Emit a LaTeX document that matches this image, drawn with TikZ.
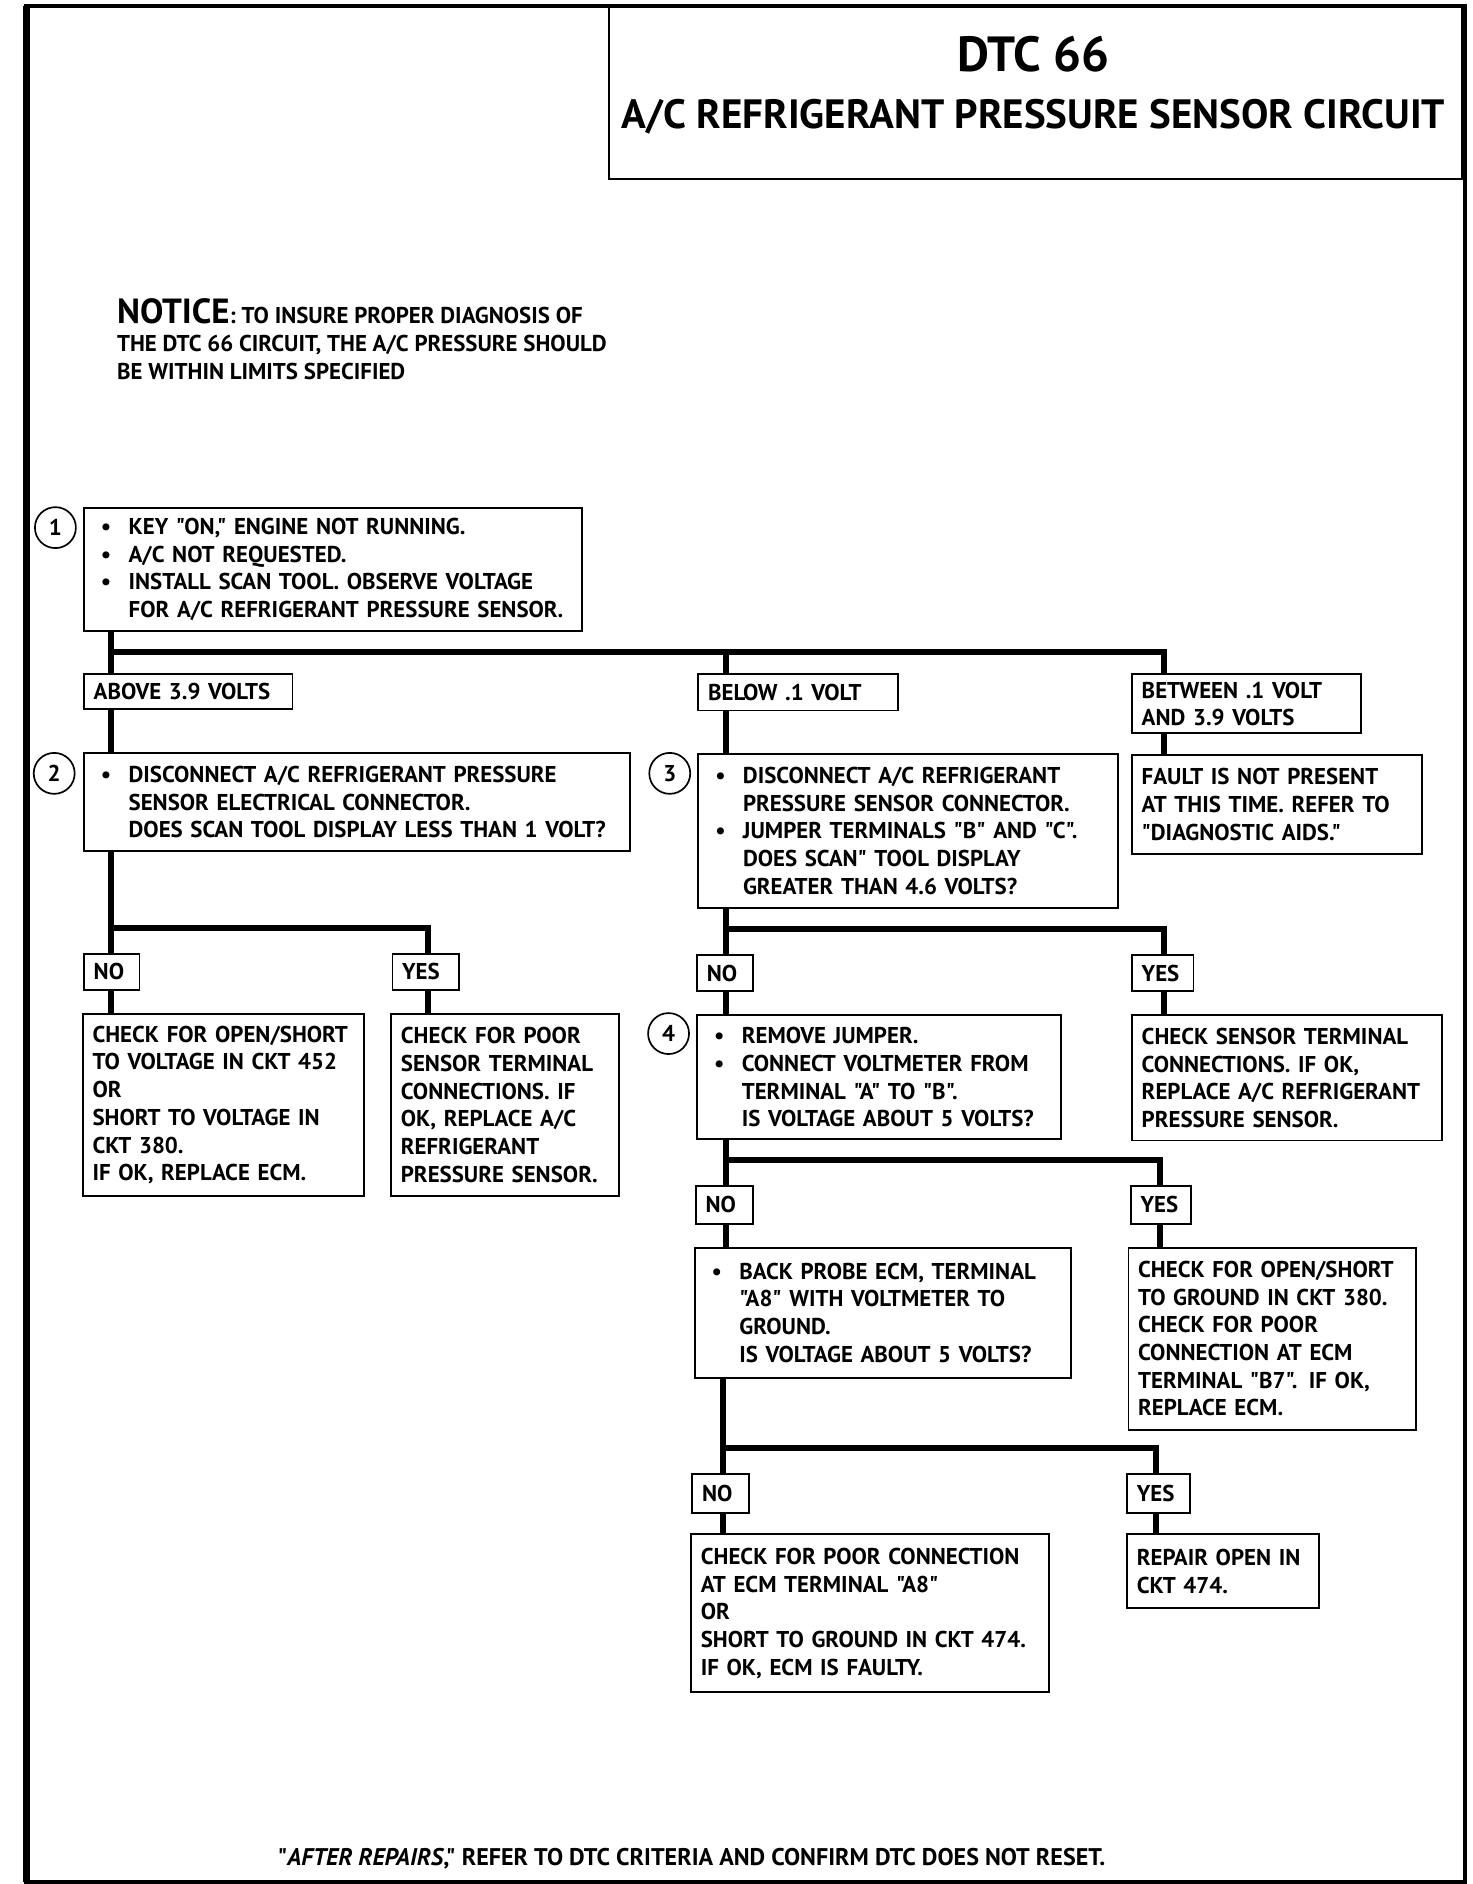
\documentclass[tikz,border=0pt]{standalone}
\usepackage{fontspec}
\setmainfont{PT Sans}[Ligatures=TeXOff]
\newcommand\bodyfont{\fontsize{19}{23}\selectfont\bfseries}
\newcommand\bul{\makebox[29pt][l]{\hspace{6pt}\textbullet}}
\newcommand\ind{\hspace*{29pt}}
\begin{document}
\begin{tikzpicture}[x=1pt,y=-1pt]
	\tikzstyle{mybox}=[draw,line width=1.6pt,anchor=north west,align=left,inner xsep=8pt,inner ysep=0pt,font=\bodyfont]
	\tikzstyle{mywire}=[line width=5pt,line join=miter]
	\tikzstyle{mystep}=[draw,circle,line width=1.4pt,minimum size=34pt,inner sep=0pt,font=\bodyfont]

	\useasboundingbox (0,0) rectangle (1222,1564);
	\draw[line width=3.5pt] (22,5) rectangle (1216,1562);
	\draw[line width=5pt] (22,5) -- (22,1562);

	% title
	\node[draw,line width=1.6pt,anchor=north west,minimum width=708pt,minimum height=143pt,inner sep=0pt] (ttlbox) at (505,5) {};
	\node[font=\fontsize{41}{41}\selectfont\bfseries] (dtc) at (858,45) {DTC 66};
	\node[font=\fontsize{34}{34}\selectfont\bfseries] (ttl) at (858,97) {A/C REFRIGERANT PRESSURE SENSOR CIRCUIT};

	\node[anchor=north west,align=left,inner sep=0pt,font=\fontsize{19}{23}\selectfont\bfseries] (notice) at (97,248)
		{{\fontsize{29}{23}\selectfont NOTICE}: TO INSURE PROPER DIAGNOSIS OF\\
		THE DTC 66 CIRCUIT, THE A/C PRESSURE SHOULD\\
		BE WITHIN LIMITS SPECIFIED};

	% step 1
	\node[mystep] (c1) at (46,438) {1};
	\node[mybox,text width=397pt,minimum height=102pt] (b1) at (69,421)
		{\bul KEY "ON," ENGINE NOT RUNNING.\\
		\bul A/C NOT REQUESTED.\\
		\bul INSTALL SCAN TOOL. OBSERVE VOLTAGE\\
		\ind FOR A/C REFRIGERANT PRESSURE SENSOR.};

	\node[mybox,text width=157pt,minimum height=29pt] (abv) at (69,559) {ABOVE 3.9 VOLTS};
	\node[mybox,text width=150pt,minimum height=30pt] (blw) at (579,559) {BELOW .1 VOLT};
	\node[mybox,text width=174pt,minimum height=49pt] (btw) at (939,559) {BETWEEN .1 VOLT\\AND 3.9 VOLTS};

	\coordinate (j1a) at (92,541);
	\coordinate (j1b) at (603,541);
	\coordinate (j1c) at (966,541);
	\draw[mywire] (b1.south -| j1a) -- (abv.north -| j1a);
	\draw[mywire] (j1a) -- (j1c) -- (btw.north -| j1c);
	\draw[mywire] (j1b) -- (blw.north -| j1b);

	% step 2 / step 3
	\node[mystep] (c2) at (45,642) {2};
	\node[mybox,text width=437pt,minimum height=82pt] (b2) at (69,624)
		{\bul DISCONNECT A/C REFRIGERANT PRESSURE\\
		\ind SENSOR ELECTRICAL CONNECTOR.\\
		\ind DOES SCAN TOOL DISPLAY LESS THAN 1 VOLT?};
	\node[mystep] (c3) at (556,642) {3};
	\node[mybox,text width=332pt,minimum height=128pt] (b3) at (579,625)
		{\bul DISCONNECT A/C REFRIGERANT\\
		\ind PRESSURE SENSOR CONNECTOR.\\
		\bul JUMPER TERMINALS "B" AND "C".\\
		\ind DOES SCAN" TOOL DISPLAY\\
		\ind GREATER THAN 4.6 VOLTS?};
	\node[mybox,text width=225pt,minimum height=82pt] (flt) at (939,626)
		{FAULT IS NOT PRESENT\\AT THIS TIME. REFER TO\\"DIAGNOSTIC AIDS."};

	\draw[mywire] (abv.south -| j1a) -- (b2.north -| j1a);
	\draw[mywire] (blw.south -| j1b) -- (b3.north -| j1b);
	\draw[mywire] (btw.south -| j1c) -- (flt.north -| j1c);

	% answers to step 2
	\node[mybox,text width=30pt,minimum height=30pt] (no2) at (69,791) {NO};
	\node[mybox,text width=39pt,minimum height=30pt] (yes2) at (325,791) {YES};
	\node[mybox,text width=217pt,minimum height=151pt] (r2n) at (68,841)
		{CHECK FOR OPEN/SHORT\\TO VOLTAGE IN CKT 452\\OR\\SHORT TO VOLTAGE IN\\CKT 380.\\IF OK, REPLACE ECM.};
	\node[mybox,text width=173pt,minimum height=151pt] (r2y) at (324,841)
		{CHECK FOR POOR\\SENSOR TERMINAL\\CONNECTIONS. IF\\OK, REPLACE A/C\\REFRIGERANT\\PRESSURE SENSOR.};

	\coordinate (j2a) at (92,770);
	\coordinate (j2b) at (355,770);
	\draw[mywire] (b2.south -| j2a) -- (no2.north -| j2a);
	\draw[mywire] (j2a) -- (j2b) -- (yes2.north -| j2b);
	\draw[mywire] (no2.south -| j2a) -- (r2n.north -| j2a);
	\draw[mywire] (yes2.south -| j2b) -- (r2y.north -| j2b);

	% answers to step 3
	\node[mybox,text width=30pt,minimum height=30pt] (no3) at (578,792) {NO};
	\node[mybox,text width=35pt,minimum height=30pt] (yes3) at (939,792) {YES};
	\node[mystep] (c4) at (555,858) {4};
	\node[mybox,text width=286pt,minimum height=103pt] (b4) at (578,842)
		{\bul REMOVE JUMPER.\\
		\bul CONNECT VOLTMETER FROM\\
		\ind TERMINAL "A" TO "B".\\
		\ind IS VOLTAGE ABOUT 5 VOLTS?};
	\node[mybox,text width=241pt,minimum height=104pt] (r3y) at (939,842)
		{CHECK SENSOR TERMINAL\\CONNECTIONS. IF OK,\\REPLACE A/C REFRIGERANT\\PRESSURE SENSOR.};

	\coordinate (j3a) at (603,771);
	\coordinate (j3b) at (966,771);
	\draw[mywire] (b3.south -| j3a) -- (no3.north -| j3a);
	\draw[mywire] (j3a) -- (j3b) -- (yes3.north -| j3b);
	\draw[mywire] (no3.south -| j3a) -- (b4.north -| j3a);
	\draw[mywire] (yes3.south -| j3b) -- (r3y.north -| j3b);

	% answers to step 4
	\node[mybox,text width=31pt,minimum height=31pt] (no4) at (577,984) {NO};
	\node[mybox,text width=34pt,minimum height=31pt] (yes4) at (938,984) {YES};
	\node[mybox,text width=296pt,minimum height=108pt] (b5) at (576,1035)
		{\bul BACK PROBE ECM, TERMINAL\\
		\ind "A8" WITH VOLTMETER TO\\
		\ind GROUND.\\
		\ind IS VOLTAGE ABOUT 5 VOLTS?};
	\node[mybox,text width=223pt,minimum height=151pt] (r4y) at (936,1035)
		{CHECK FOR OPEN/SHORT\\TO GROUND IN CKT 380.\\CHECK FOR POOR\\CONNECTION AT ECM\\TERMINAL "B7". IF OK,\\REPLACE ECM.};

	\coordinate (j4a) at (603,963);
	\coordinate (j4b) at (963,963);
	\draw[mywire] (b4.south -| j4a) -- (no4.north -| j4a);
	\draw[mywire] (j4a) -- (j4b) -- (yes4.north -| j4b);
	\draw[mywire] (no4.south -| j4a) -- (b5.north -| j4a);
	\draw[mywire] (yes4.south -| j4b) -- (r4y.north -| j4b);

	% last answers
	\node[mybox,text width=31pt,minimum height=32pt] (no5) at (574,1223) {NO};
	\node[mybox,text width=36pt,minimum height=32pt] (yes5) at (935,1223) {YES};
	\node[mybox,text width=281pt,minimum height=131pt] (r5n) at (573,1273)
		{CHECK FOR POOR CONNECTION\\AT ECM TERMINAL "A8"\\OR\\SHORT TO GROUND IN CKT 474.\\IF OK, ECM IS FAULTY.};
	\node[mybox,text width=143pt,minimum height=61pt] (r5y) at (935,1273)
		{REPAIR OPEN IN\\CKT 474.};

	\coordinate (j5a) at (600,1202);
	\coordinate (j5b) at (960,1202);
	\draw[mywire] (b5.south -| j5a) -- (no5.north -| j5a);
	\draw[mywire] (j5a) -- (j5b) -- (yes5.north -| j5b);
	\draw[mywire] (no5.south -| j5a) -- (r5n.north -| j5a);
	\draw[mywire] (yes5.south -| j5b) -- (r5y.north -| j5b);

	\node[font=\fontsize{20}{23}\selectfont\bfseries] (foot) at (574,1543)
		{"\textit{AFTER REPAIRS},"\ REFER TO DTC CRITERIA AND CONFIRM DTC DOES NOT RESET.};
\end{tikzpicture}
\end{document}
